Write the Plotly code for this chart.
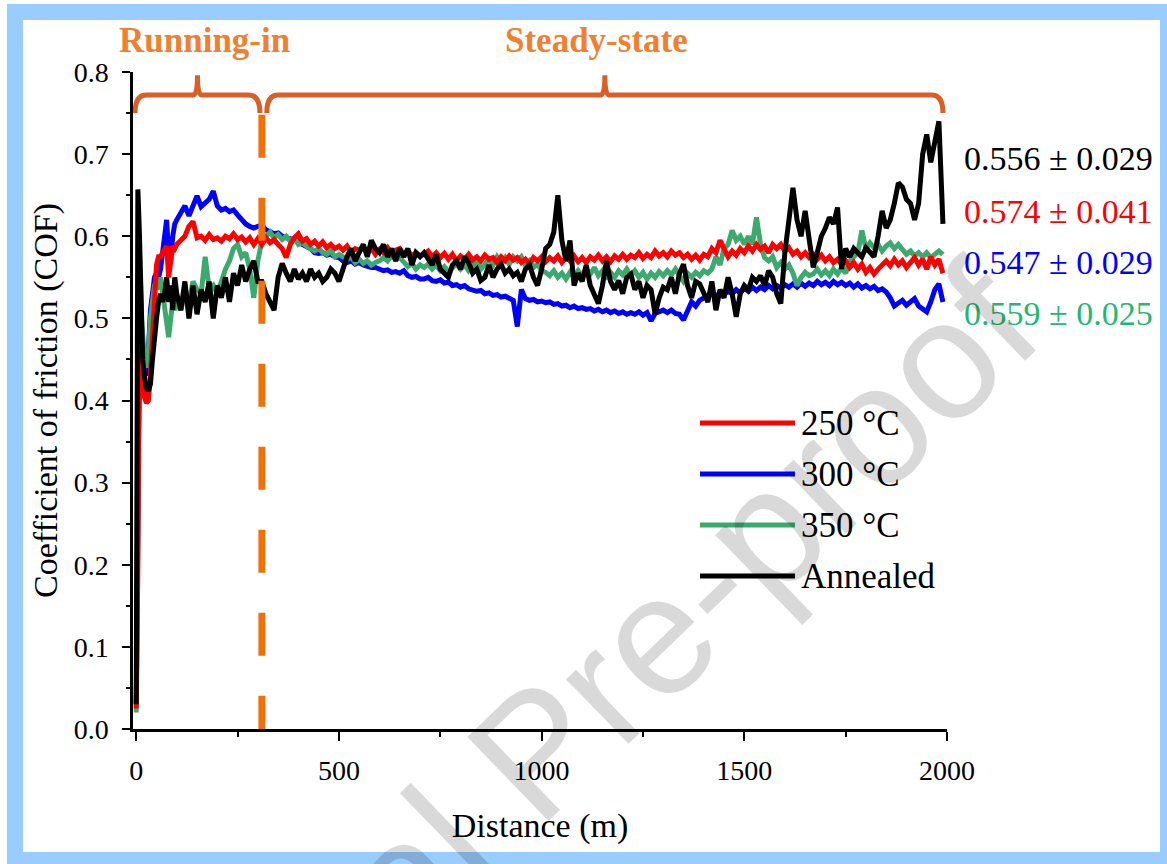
import plotly.graph_objects as go

# ---------------- data ----------------
distance_early = [0, 2, 4, 6, 8, 10, 13, 16, 20, 25, 30, 35, 40, 45, 50, 55, 60, 65, 70, 75, 80, 85, 90, 95, 100]
distance = distance_early + list(range(110, 2000, 10))

cof_250 = [
    0.025, 0.08, 0.2, 0.35, 0.44, 0.46, 0.44, 0.42, 0.405, 0.397, 0.40, 0.43, 0.48, 0.53, 0.565, 0.575, 0.575, 0.58, 0.585, 0.588, 0.55, 0.575, 0.588, 0.585, 0.59,
    0.595, 0.60, 0.612, 0.618, 0.598, 0.60, 0.595, 0.602, 0.596, 0.598,
    0.594, 0.60, 0.597, 0.603, 0.596, 0.599, 0.593, 0.598, 0.59, 0.597,
    0.59, 0.598, 0.592, 0.596, 0.59, 0.585, 0.574, 0.59, 0.598, 0.603,
    0.594, 0.597, 0.59, 0.594, 0.588, 0.593, 0.586, 0.59, 0.585, 0.588,
    0.583, 0.588, 0.58, 0.585, 0.583, 0.587, 0.58, 0.585, 0.578, 0.584,
    0.58, 0.586, 0.578, 0.583, 0.585, 0.578, 0.582, 0.576, 0.58, 0.576,
    0.578, 0.582, 0.575, 0.58, 0.574, 0.579, 0.572, 0.578, 0.57, 0.576,
    0.572, 0.578, 0.571, 0.575, 0.57, 0.577, 0.572, 0.574, 0.568, 0.575,
    0.57, 0.576, 0.571, 0.574, 0.568, 0.572, 0.566, 0.574, 0.57, 0.575,
    0.569, 0.574, 0.57, 0.576, 0.568, 0.574, 0.57, 0.576, 0.569, 0.574,
    0.568, 0.575, 0.571, 0.577, 0.57, 0.575, 0.569, 0.576, 0.572, 0.578,
    0.572, 0.577, 0.574, 0.58, 0.573, 0.578, 0.574, 0.582, 0.576, 0.58,
    0.575, 0.582, 0.577, 0.58, 0.574, 0.578, 0.572, 0.577, 0.571, 0.578,
    0.575, 0.585, 0.58, 0.595, 0.585, 0.575, 0.582, 0.577, 0.585, 0.58,
    0.588, 0.582, 0.59, 0.584, 0.588, 0.58, 0.59, 0.585, 0.59, 0.582,
    0.586, 0.578, 0.582, 0.575, 0.58, 0.574, 0.578, 0.572, 0.577, 0.57,
    0.575, 0.568, 0.572, 0.566, 0.57, 0.562, 0.568, 0.56, 0.566, 0.556,
    0.562, 0.554, 0.56, 0.566, 0.57, 0.564, 0.572, 0.565, 0.57, 0.562,
    0.568, 0.574, 0.565, 0.572, 0.56, 0.575, 0.565, 0.572, 0.555,
]

cof_300 = [
    0.03, 0.1, 0.25, 0.4, 0.5, 0.53, 0.49, 0.46, 0.44, 0.43, 0.46, 0.51, 0.53, 0.55, 0.555, 0.55, 0.56, 0.58, 0.60, 0.62, 0.575, 0.57, 0.60, 0.615, 0.62,
    0.63, 0.637, 0.625, 0.638, 0.649, 0.636, 0.64, 0.645, 0.655, 0.637,
    0.632, 0.634, 0.63, 0.632, 0.626, 0.62, 0.615, 0.612, 0.61, 0.612,
    0.613, 0.608, 0.605, 0.603, 0.604, 0.6, 0.598, 0.597, 0.596, 0.595,
    0.59, 0.588, 0.585, 0.58, 0.579, 0.58, 0.577, 0.578, 0.575, 0.574,
    0.57, 0.568, 0.57, 0.566, 0.568, 0.565, 0.563, 0.562, 0.562, 0.56,
    0.558, 0.559, 0.556, 0.557, 0.555, 0.558, 0.552, 0.55, 0.551, 0.548,
    0.548, 0.55, 0.546, 0.545, 0.547, 0.543, 0.544, 0.54, 0.541, 0.538,
    0.54, 0.536, 0.535, 0.533, 0.534, 0.53, 0.531, 0.528, 0.529, 0.526,
    0.527, 0.524, 0.522, 0.49, 0.535, 0.524, 0.522, 0.523, 0.52, 0.521,
    0.519, 0.52, 0.517, 0.518, 0.515, 0.516, 0.513, 0.515, 0.512, 0.513,
    0.511, 0.512, 0.509, 0.511, 0.508, 0.51, 0.507, 0.509, 0.506, 0.508,
    0.505, 0.507, 0.505, 0.508, 0.504, 0.507, 0.497, 0.506, 0.508, 0.51,
    0.507, 0.51, 0.506, 0.505, 0.498, 0.51, 0.52, 0.515, 0.522, 0.525,
    0.527, 0.53, 0.526, 0.532, 0.529, 0.533, 0.53, 0.535, 0.531, 0.537,
    0.533, 0.538, 0.534, 0.538, 0.535, 0.54, 0.536, 0.54, 0.537, 0.541,
    0.538, 0.542, 0.538, 0.543, 0.539, 0.543, 0.54, 0.545, 0.541, 0.544,
    0.54, 0.545, 0.541, 0.544, 0.54, 0.543, 0.538, 0.542, 0.537, 0.54,
    0.536, 0.539, 0.534, 0.536, 0.532, 0.525, 0.515, 0.518, 0.522, 0.516,
    0.52, 0.524, 0.515, 0.512, 0.508, 0.52, 0.535, 0.542, 0.52,
]

cof_350 = [
    0.02, 0.1, 0.3, 0.45, 0.52, 0.55, 0.5, 0.47, 0.45, 0.44, 0.46, 0.50, 0.52, 0.54, 0.545, 0.535, 0.55, 0.53, 0.51, 0.49, 0.477, 0.50, 0.52, 0.51, 0.52,
    0.51, 0.53, 0.52, 0.545, 0.535, 0.53, 0.575, 0.535, 0.54, 0.53,
    0.545, 0.56, 0.57, 0.585, 0.59, 0.575, 0.58, 0.56, 0.525, 0.57,
    0.595, 0.60, 0.605, 0.598, 0.602, 0.596, 0.60, 0.594, 0.598, 0.59,
    0.592, 0.588, 0.585, 0.582, 0.585, 0.58, 0.578, 0.582, 0.575, 0.578,
    0.575, 0.572, 0.575, 0.568, 0.572, 0.567, 0.57, 0.565, 0.568, 0.57,
    0.574, 0.57, 0.576, 0.572, 0.574, 0.568, 0.563, 0.567, 0.56, 0.565,
    0.562, 0.566, 0.56, 0.565, 0.558, 0.563, 0.557, 0.562, 0.566, 0.56,
    0.565, 0.558, 0.563, 0.568, 0.56, 0.566, 0.572, 0.565, 0.575, 0.568,
    0.574, 0.566, 0.575, 0.57, 0.575, 0.565, 0.57, 0.562, 0.566, 0.558,
    0.556, 0.552, 0.558, 0.55, 0.555, 0.548, 0.556, 0.55, 0.558, 0.552,
    0.56, 0.554, 0.562, 0.552, 0.558, 0.548, 0.556, 0.55, 0.558, 0.553,
    0.56, 0.552, 0.558, 0.55, 0.556, 0.548, 0.555, 0.55, 0.557, 0.552,
    0.558, 0.553, 0.56, 0.552, 0.545, 0.555, 0.55, 0.556, 0.552, 0.558,
    0.555, 0.56, 0.575, 0.565, 0.585, 0.59, 0.607, 0.595, 0.6, 0.59,
    0.6, 0.59, 0.623, 0.59, 0.574, 0.57, 0.575, 0.562, 0.568, 0.56,
    0.565, 0.555, 0.54, 0.55, 0.556, 0.552, 0.554, 0.56, 0.553, 0.558,
    0.552, 0.56, 0.554, 0.562, 0.555, 0.57, 0.575, 0.58, 0.607, 0.585,
    0.592, 0.586, 0.59, 0.582, 0.588, 0.592, 0.585, 0.59, 0.584, 0.578,
    0.582, 0.576, 0.58, 0.575, 0.58, 0.574, 0.578, 0.582, 0.578,
]

cof_annealed = [
    0.03, 0.4, 0.657, 0.63, 0.6, 0.55, 0.48, 0.45, 0.43, 0.415, 0.412, 0.42, 0.45, 0.48, 0.50, 0.52, 0.53, 0.52, 0.53, 0.55, 0.52, 0.54, 0.51, 0.55, 0.53,
    0.51, 0.545, 0.50, 0.54, 0.505, 0.535, 0.52, 0.545, 0.50, 0.54,
    0.525, 0.55, 0.52, 0.555, 0.54, 0.565, 0.545, 0.56, 0.57, 0.545,
    0.545, 0.53, 0.52, 0.51, 0.55, 0.567, 0.555, 0.545, 0.56, 0.548,
    0.555, 0.545, 0.56, 0.55, 0.555, 0.545, 0.55, 0.56, 0.555, 0.545,
    0.56, 0.575, 0.585, 0.57, 0.58, 0.59, 0.575, 0.595, 0.585, 0.58,
    0.59, 0.575, 0.585, 0.57, 0.585, 0.575, 0.585, 0.565, 0.58, 0.575,
    0.58, 0.572, 0.565, 0.578, 0.56, 0.555, 0.55, 0.565, 0.57, 0.56,
    0.575, 0.568, 0.555, 0.56, 0.546, 0.55, 0.565, 0.55, 0.56, 0.566,
    0.555, 0.56, 0.552, 0.556, 0.545, 0.56, 0.565, 0.55, 0.54, 0.56,
    0.585, 0.59, 0.605, 0.65, 0.595, 0.57, 0.595, 0.54, 0.555, 0.545,
    0.565, 0.54, 0.53, 0.518, 0.54, 0.57, 0.545, 0.535, 0.546, 0.53,
    0.55, 0.554, 0.535, 0.545, 0.525, 0.54, 0.535, 0.505, 0.525, 0.538,
    0.535, 0.55, 0.53, 0.555, 0.566, 0.54, 0.525, 0.545, 0.542, 0.53,
    0.52, 0.545, 0.51, 0.535, 0.525, 0.55, 0.53, 0.502, 0.53, 0.54,
    0.535, 0.55, 0.545, 0.552, 0.54, 0.558, 0.55, 0.53, 0.518, 0.58,
    0.625, 0.659, 0.62, 0.60, 0.631, 0.60, 0.562, 0.58, 0.60, 0.61,
    0.623, 0.615, 0.635, 0.56, 0.585, 0.575, 0.585, 0.58, 0.575, 0.586,
    0.58, 0.575, 0.6, 0.631, 0.61, 0.62, 0.64, 0.665, 0.66, 0.645,
    0.64, 0.62, 0.64, 0.7, 0.724, 0.69, 0.715, 0.74, 0.615,
]

series_names = ["250 °C", "300 °C", "350 °C", "Annealed"]
series_values = [cof_250, cof_300, cof_350, cof_annealed]
series_colors = ["#FF0000", "#0000FF", "#3CAA6E", "#000000"]
draw_order = [1, 2, 0, 3]

mean_labels = ["0.556 ± 0.029", "0.574 ± 0.041", "0.547 ± 0.029", "0.559 ± 0.025"]
mean_colors = ["#000000", "#FF0000", "#0000FF", "#22B872"]
mean_label_y = [0.695, 0.630, 0.568, 0.506]

running_in_end = 310            # m, boundary between the two regimes
running_in_span = (-3, 305)      # brace extent (m)
steady_span = (322, 1990)        # brace extent (m)
phase_labels = ["Running-in", "Steady-state"]
phase_label_x = [168, 1135]

x_range = [-8, 2000]
y_range = [0, 0.8]

SERIF = "Liberation Serif"

# ---------------- figure ----------------
fig = go.Figure()
for i in draw_order:
    fig.add_trace(go.Scatter(
        x=distance, y=series_values[i], mode="lines", name=series_names[i],
        line=dict(color=series_colors[i], width=5), showlegend=False,
    ))

W, H = 1167, 864
ML, MR, MT, MB = 133, 220, 72, 135
pw, ph = W - ML - MR, H - MT - MB


def px2paper_x(px):
    return (px - ML) / pw


def py2paper_y(py):
    return (H - MB - py) / ph


shapes = []
# page frame (light blue border around white page)
shapes.append(dict(type="rect", xref="paper", yref="paper", layer="below",
                   x0=px2paper_x(7), x1=px2paper_x(1167), y0=py2paper_y(864), y1=py2paper_y(4),
                   fillcolor="#99CCFF", line=dict(width=0)))
shapes.append(dict(type="rect", xref="paper", yref="paper", layer="below",
                   x0=px2paper_x(23), x1=px2paper_x(1160), y0=py2paper_y(852), y1=py2paper_y(20),
                   fillcolor="white", line=dict(width=0)))

# vertical dashed boundary line
shapes.append(dict(type="line", xref="x", yref="y", x0=running_in_end, x1=running_in_end,
                   y0=0.748, y1=0.0, line=dict(color="#F0700A", width=7, dash="43px,40px")))


def brace_path(xa, xb, y_end=0.75, y_mid=0.772, y_tip=0.796, r=28, r2=10):
    xm = (xa + xb) / 2
    return (f"M {xa},{y_end} Q {xa},{y_mid} {xa + r},{y_mid} "
            f"L {xm - r2},{y_mid} Q {xm},{y_mid} {xm},{y_tip} "
            f"Q {xm},{y_mid} {xm + r2},{y_mid} "
            f"L {xb - r},{y_mid} Q {xb},{y_mid} {xb},{y_end}")


for span in (running_in_span, steady_span):
    shapes.append(dict(type="path", xref="x", yref="y", path=brace_path(*span),
                       line=dict(color="#D95F28", width=5)))

# manual legend lines
legend_rows_y = [py2paper_y(423), py2paper_y(474), py2paper_y(525), py2paper_y(576)]
for i, yy in enumerate(legend_rows_y):
    shapes.append(dict(type="line", xref="paper", yref="paper",
                       x0=px2paper_x(700), x1=px2paper_x(795), y0=yy, y1=yy,
                       line=dict(color=series_colors[i], width=5)))

annotations = []
for i, yy in enumerate(legend_rows_y):
    annotations.append(dict(xref="paper", yref="paper", x=px2paper_x(799), y=yy,
                            xanchor="left", yanchor="middle", showarrow=False,
                            text=series_names[i], font=dict(family=SERIF, size=35, color="black")))

for lbl, col, yy in zip(mean_labels, mean_colors, mean_label_y):
    annotations.append(dict(xref="paper", yref="y", x=px2paper_x(962), y=yy,
                            xanchor="left", yanchor="middle", showarrow=False,
                            text=lbl, font=dict(family=SERIF, size=34, color=col)))

for lbl, lx in zip(phase_labels, phase_label_x):
    annotations.append(dict(xref="x", yref="paper", x=lx, y=py2paper_y(40),
                            xanchor="center", yanchor="middle", showarrow=False,
                            text=f"<b>{lbl}</b>", font=dict(family=SERIF, size=35, color="#F08030")))

# watermark
annotations.append(dict(xref="paper", yref="paper", x=px2paper_x(535), y=py2paper_y(752),
                        xanchor="center", yanchor="middle", showarrow=False, textangle=-44,
                        text="Journal Pre-proof",
                        font=dict(family="Liberation Sans", size=170, color="rgba(0,0,0,0.15)")))

fig.update_layout(
    width=W, height=H, autosize=False,
    margin=dict(l=ML, r=MR, t=MT, b=MB, pad=0),
    paper_bgcolor="white", plot_bgcolor="rgba(0,0,0,0)",
    shapes=shapes, annotations=annotations,
    font=dict(family=SERIF, color="black"),
)

fig.update_xaxes(
    range=x_range, showline=True, linecolor="black", linewidth=2.5, mirror=False,
    ticks="outside", ticklen=9, tickwidth=2, tickcolor="black", tick0=0, dtick=500,
    minor=dict(dtick=250, ticklen=5, tickwidth=2, ticks="outside", tickcolor="black", showgrid=False),
    showgrid=False, zeroline=False,
    tickfont=dict(family=SERIF, size=28, color="black"), ticklabelstandoff=6,
    title=dict(text="Distance (m)", font=dict(family=SERIF, size=34, color="black"), standoff=28),
)
fig.update_yaxes(
    range=y_range, showline=True, linecolor="black", linewidth=2.5, mirror=False,
    ticks="outside", ticklen=8, tickwidth=2, tickcolor="black", tick0=0, dtick=0.1, tickformat=".1f",
    minor=dict(dtick=0.05, ticklen=4, tickwidth=2, ticks="outside", tickcolor="black", showgrid=False),
    showgrid=False, zeroline=False,
    tickfont=dict(family=SERIF, size=28, color="black"), ticklabelstandoff=8,
    title=dict(text="Coefficient of friction (COF)", font=dict(family=SERIF, size=34, color="black"), standoff=6),
)

fig.write_html("out.html")
